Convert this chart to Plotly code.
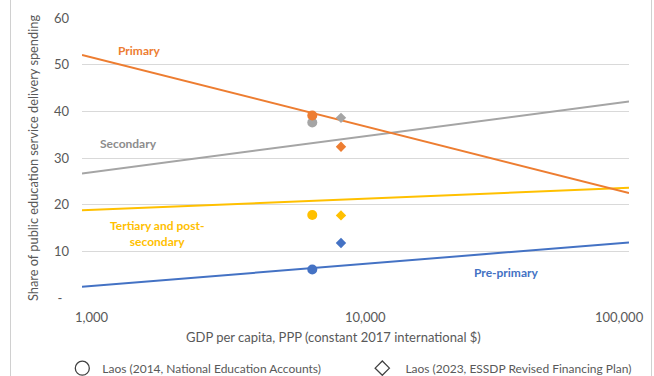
import plotly.graph_objects as go

# ---- data ----
fit_x = [1000, 100000]
primary_fit = [52.1, 22.5]
secondary_fit = [26.7, 42.1]
tertiary_fit = [18.8, 23.6]
preprimary_fit = [2.4, 11.9]

x_2014 = 6950
x_2023 = 8850
vals_2014 = {"Primary": 39.1, "Secondary": 37.6, "Tertiary": 17.8, "Pre-primary": 6.1}
vals_2023 = {"Primary": 32.4, "Secondary": 38.6, "Tertiary": 17.7, "Pre-primary": 11.8}

x_tickvals = [1000, 10000, 100000]
x_ticktext = ["1,000", "10,000", "100,000"]
x_label_shift = [10, 10, -10]
y_tickvals = [0, 10, 20, 30, 40, 50, 60]
y_ticktext = ["-\u00a0\u00a0", "10", "20", "30", "40", "50", "60"]

colors = {"Primary": "#ED7D31", "Secondary": "#A5A5A5",
          "Tertiary": "#FFC000", "Pre-primary": "#4472C4"}
fits = {"Primary": primary_fit, "Secondary": secondary_fit,
        "Tertiary": tertiary_fit, "Pre-primary": preprimary_fit}

FONT = "Lato"
TXT = "#595959"

fig = go.Figure()

for k in ["Secondary", "Tertiary", "Pre-primary", "Primary"]:
    fig.add_trace(go.Scatter(x=fit_x, y=fits[k], mode="lines",
                             line=dict(color=colors[k], width=2),
                             showlegend=False, hoverinfo="skip"))

for k in ["Secondary", "Tertiary", "Pre-primary", "Primary"]:
    fig.add_trace(go.Scatter(x=[x_2014], y=[vals_2014[k]], mode="markers",
                             marker=dict(symbol="circle", size=10, color=colors[k]),
                             showlegend=False))
    fig.add_trace(go.Scatter(x=[x_2023], y=[vals_2023[k]], mode="markers",
                             marker=dict(symbol="diamond", size=8, color=colors[k]),
                             showlegend=False))

# legend entries
fig.add_trace(go.Scatter(x=[None], y=[None], mode="markers",
                         name="Laos (2014, National Education Accounts)",
                         marker=dict(symbol="circle-open", size=14,
                                     color="#404040", line=dict(width=1.3))))
fig.add_trace(go.Scatter(x=[None], y=[None], mode="markers",
                         name="\u00a0Laos (2023, ESSDP Revised Financing Plan)",
                         marker=dict(symbol="diamond-open", size=11,
                                     color="#404040", line=dict(width=1.3))))

# series labels
labels = [
    ("Primary", 3.209, 52.97, colors["Primary"]),
    ("Secondary", 3.170, 33.2, "#8C8C8C"),
    ("Tertiary and post-<br>secondary", 3.274, 13.8, colors["Tertiary"]),
    ("Pre-primary", 4.552, 5.5, colors["Pre-primary"]),
]
for text, lx, ly, c in labels:
    fig.add_annotation(x=lx, y=ly, xref="x", yref="y", text="<b>%s</b>" % text,
                       showarrow=False, font=dict(family=FONT, size=12, color=c),
                       align="center")

# x tick labels (placed on the axis scale, nudged like the original)
import math
for v, t, s in zip(x_tickvals, x_ticktext, x_label_shift):
    fig.add_annotation(x=math.log10(v), y=0, xref="x", yref="paper", text=t,
                       showarrow=False, xanchor="center", yanchor="middle",
                       xshift=s, yshift=-18.5,
                       font=dict(family=FONT, size=13, color=TXT))

# x axis title
fig.add_annotation(x=0.459, y=0, xref="paper", yref="paper",
                   text="GDP per capita, PPP (constant 2017 international $)",
                   showarrow=False, xanchor="center", yanchor="middle", yshift=-39,
                   font=dict(family=FONT, size=13, color=TXT))

# frame lines
for px in [-71.5, 569.5]:
    fig.add_shape(type="line", xref="paper", yref="paper",
                  xsizemode="pixel", xanchor=0, x0=px, x1=px,
                  y0=-0.5, y1=1.5, line=dict(color="#D0D0D0", width=1))

fig.update_layout(
    width=654, height=376,
    margin=dict(l=82, r=25, t=18, b=78, autoexpand=False),
    paper_bgcolor="white", plot_bgcolor="white",
    font=dict(family=FONT, size=13, color=TXT),
    xaxis=dict(type="log", range=[3, 5], tickvals=x_tickvals,
               showticklabels=False,
               showgrid=False, zeroline=False, showline=False),
    yaxis=dict(range=[0, 60], tickvals=y_tickvals, ticktext=y_ticktext,
               showgrid=True, gridcolor="#D9D9D9", gridwidth=1.2,
               zeroline=False, showline=False, ticklabelstandoff=12,
               tickfont=dict(size=13, color=TXT),
               title=dict(text="Share of public education service delivery spending",
                          font=dict(size=12.8, color=TXT), standoff=12)),
    legend=dict(orientation="h", x=-0.036, y=-0.2505, xanchor="left", yanchor="middle",
                entrywidth=255, entrywidthmode="pixels",
                font=dict(size=12, color=TXT), bgcolor="rgba(0,0,0,0)"),
    showlegend=True,
)

fig.write_html("out.html")
